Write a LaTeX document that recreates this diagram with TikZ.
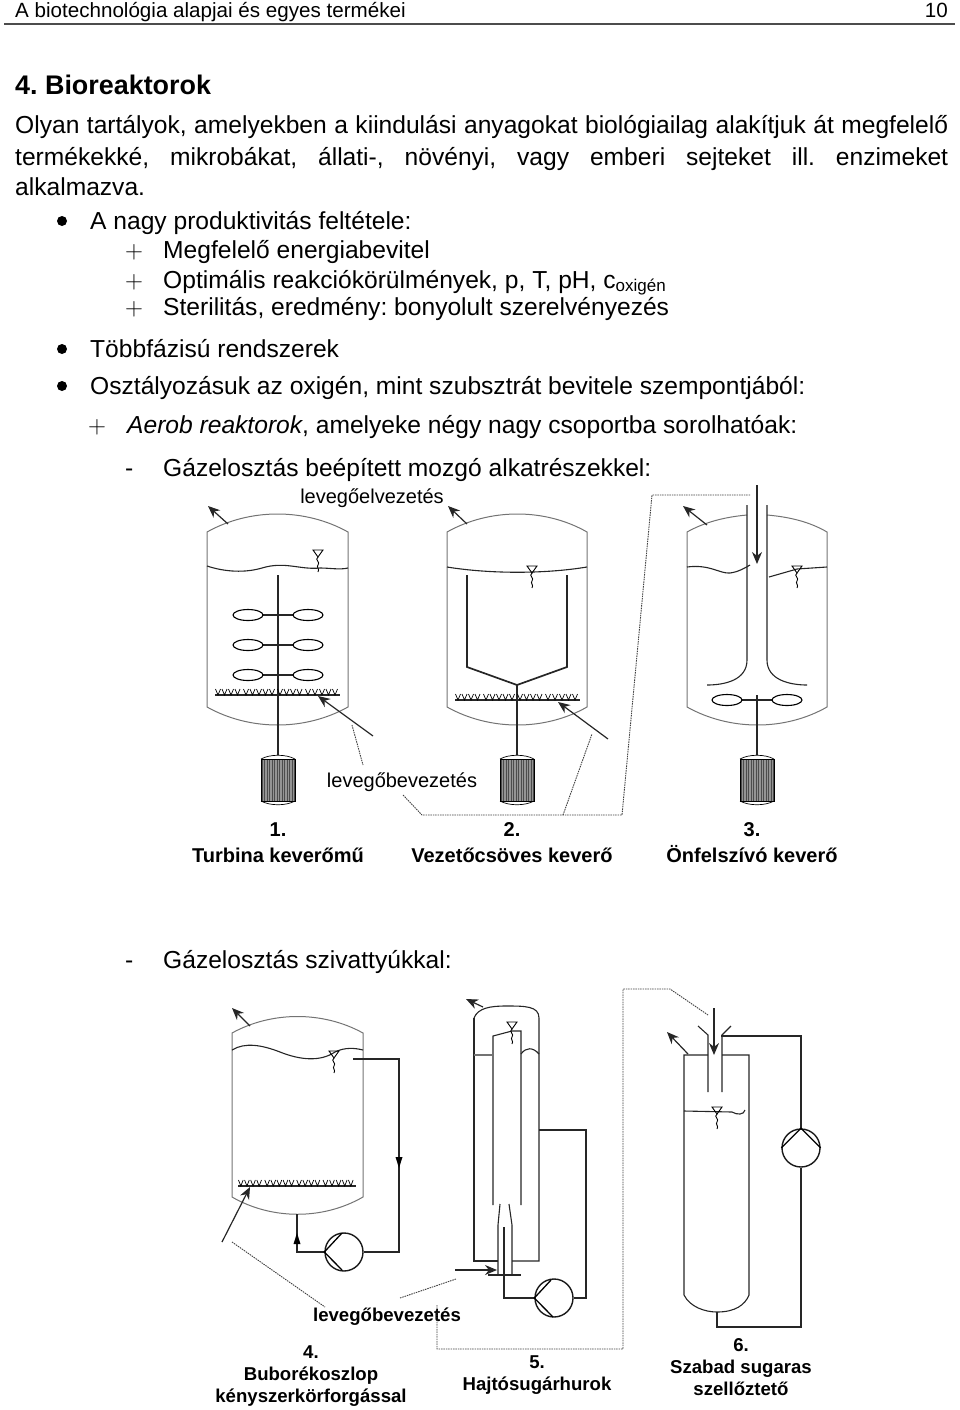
\documentclass[tikz,border=0pt]{standalone}
\usepackage{fontspec}
\setmainfont{Liberation Sans}
\usetikzlibrary{arrows.meta, calc}

\newcommand{\bodyfont}{\fontsize{24.6}{30}\selectfont}
\newcommand{\labelfont}{\fontsize{20}{26}\selectfont}
\newcommand{\smallcapfont}{\fontsize{18.6}{22}\selectfont}
\frenchspacing

\tikzset{
  line/.style={anchor=base west, inner sep=0pt, font=\bodyfont},
  caption/.style={inner sep=0pt, align=center, font=\labelfont\bfseries},
  lowcaption/.style={inner sep=0pt, align=center, font=\smallcapfont\bfseries},
  wall/.style={draw=black!55, line width=1pt},
  inner/.style={draw=black!85, line width=1.1pt},
  tube/.style={draw=black!85, line width=1.7pt},
  flow/.style={draw=black!85, line width=1.2pt, -{Stealth[length=12pt,width=10pt]}},
  lead/.style={draw=black!75, line width=.9pt, dash pattern=on 1.5pt off .9pt},
  pump/.style={draw=black!90, line width=1.4pt, circle, minimum size=38pt, inner sep=0pt},
  levelmark/.pic={
    \draw[line width=.9pt] (-5,0) -- (5,0) -- (0,7) -- cycle;
    \draw[line width=.9pt] (0,7) .. controls (-4,10) and (3,12) .. (0,15) .. controls (-2,17) and (2,19) .. (0,22);
  },
  motor/.pic={
    \draw[line width=.7pt] (-17,0) .. controls (-8,-5) and (8,-5) .. (17,0);
    \draw[line width=.7pt] (-17,42) .. controls (-8,47) and (8,47) .. (17,42);
    \fill[black!42] (-17,0) rectangle (17,42);
    \foreach \s in {-16,-13.5,...,16.5}
      \draw[black!70, line width=.45pt] (\s,0) -- (\s,42);
    \draw[black, line width=1pt] (-17,0) rectangle (17,42);
  },
  sparger/.pic={
    \draw[line width=1.4pt, black!85] (0,0) -- (125,0);
    \foreach \s in {3,9.5,16,22.5,31,37.5,44,50.5,57,65,71.5,78,84.5,93,100,107,113.5,120}
      \draw[line width=.7pt] (\s-2.5,-6) -- (\s,0) -- (\s+2.5,-6);
  },
  paddle/.pic={
    \draw[line width=1.1pt, black!85] (-15,0) -- (15,0);
    \draw[line width=1.1pt, fill=white] (-30,0) ellipse [x radius=15, y radius=5.5];
    \draw[line width=1.1pt, fill=white] (30,0) ellipse [x radius=15, y radius=5.5];
  }
}

\begin{document}
\begin{tikzpicture}[x=1pt, y=-1pt]
  \useasboundingbox (0,0) rectangle (960,1410);

  % page text
  \node[line, font=\fontsize{20.6}{26}\selectfont] (head) at (15,18) {A biotechnológia alapjai és egyes termékei};
  \node[anchor=base east, inner sep=0pt, font=\fontsize{20.6}{26}\selectfont] (pageno) at (948,18) {10};
  \draw[black!70, line width=1.2pt] (4,24) -- (955,24);
  \node[line, font=\fontsize{26.9}{32}\selectfont\bfseries] (title) at (15,95) {4. Bioreaktorok};
  \node[line] (p1) at (15,134) {\makebox[933pt][s]{Olyan tartályok, amelyekben a kiindulási anyagokat biológiailag alakítjuk át megfelelő}};
  \node[line] (p2) at (15,165) {\makebox[933pt][s]{termékekké, mikrobákat, állati-, növényi, vagy emberi sejteket ill. enzimeket}};
  \node[line] (p3) at (15,195) {alkalmazva.};

  \fill (62,221) circle (5);
  \fill (62,349) circle (5);
  \fill (62,386) circle (5);
  \node[line] (a0) at (90,229) {A nagy produktivitás feltétele:};
  \node[line, font=\fontsize{24}{30}\selectfont\rmfamily] (a1p) at (125,258) {$+$};
  \node[line] (a1) at (163,258) {Megfelelő energiabevitel};
  \node[line, font=\fontsize{24}{30}\selectfont\rmfamily] (a2p) at (125,288) {$+$};
  \node[line] (a2) at (163,288) {Optimális reakciókörülmények, p, T, pH, c\raisebox{-3pt}{\fontsize{17}{17}\selectfont oxigén}};
  \node[line, font=\fontsize{24}{30}\selectfont\rmfamily] (a3p) at (125,315) {$+$};
  \node[line] (a3) at (163,315) {Sterilitás, eredmény: bonyolult szerelvényezés};
  \node[line] (b0) at (90,357) {Többfázisú rendszerek};
  \node[line] (c0) at (90,394) {Osztályozásuk az oxigén, mint szubsztrát bevitele szempontjából:};
  \node[line, font=\fontsize{24}{30}\selectfont\rmfamily] (c1p) at (88,433) {$+$};
  \node[line] (c1) at (127,433) {\textit{Aerob reaktorok}, amelyeke négy nagy csoportba sorolhatóak:};
  \node[line] (d1m) at (125,476) {-};
  \node[line] (d1) at (163,476) {Gázelosztás beépített mozgó alkatrészekkel:};
  \node[line] (d2m) at (125,968) {-};
  \node[line] (d2) at (163,968) {Gázelosztás szivattyúkkal:};

  % 1. turbina
  \draw[wall] (207,532) .. controls (250,508) and (305,508) .. (348,532) -- (348,707) .. controls (305,731) and (250,731) .. (207,707) -- cycle;
  \draw[inner] (207,566) .. controls (225,572) and (245,573) .. (262,568) .. controls (285,561) and (300,570) .. (320,568) .. controls (330,568) and (340,570) .. (348,568);
  \pic at (318,550) {levelmark};
  \draw[inner] (278,575) -- (278,755);
  \pic at (278,615) {paddle};
  \pic at (278,645) {paddle};
  \pic at (278,675) {paddle};
  \pic at (215,695) {sparger};
  \pic at (278,759) {motor};
  \draw[flow] (228,524) -- (208,506);
  \draw[flow] (373,736) -- (318,696);

  % 2. vezetocsoves
  \draw[wall] (447,532) .. controls (490,508) and (545,508) .. (587,532) -- (587,707) .. controls (545,731) and (490,731) .. (447,707) -- cycle;
  \draw[inner] (447,567) .. controls (490,574) and (545,574) .. (587,567);
  \pic at (532,566) {levelmark};
  \draw[tube] (467,575) -- (467,667) -- (517,685) -- (567,667) -- (567,575);
  \draw[inner] (517,685) -- (517,755);
  \pic at (455,700) {sparger};
  \pic at (517,759) {motor};
  \draw[flow] (467,524) -- (448,506);
  \draw[flow] (608,739) -- (558,702);

  % 3. onfelszivo
  \draw[wall] (747,515) .. controls (725,517) and (705,522) .. (687,532) -- (687,707) .. controls (730,731) and (785,731) .. (827,707) -- (827,532) .. controls (810,522) and (790,517) .. (767,515);
  \draw[inner] (687,567) .. controls (710,564) and (720,574) .. (730,573) .. controls (738,572) and (745,568) .. (750,565);
  \draw[inner] (769,577) -- (797,569) -- (827,567);
  \pic at (797,566) {levelmark};
  \draw[inner] (747,505) -- (747,660) .. controls (747,680) and (725,685) .. (707,685);
  \draw[inner] (767,505) -- (767,660) .. controls (767,680) and (790,685) .. (807,685);
  \draw[inner] (757,695) -- (757,755);
  \pic at (757,700) {paddle};
  \pic at (757,759) {motor};
  \draw[flow] (707,525) -- (683,506);
  \draw[flow] (757,485) -- (757,564);

  % levegobevezetes, felso sor
  \node[inner sep=0pt, font=\labelfont] (outtop) at (372,498) {levegőelvezetés};
  \node[inner sep=0pt, font=\labelfont] (intop) at (402,782) {levegőbevezetés};
  \draw[lead] (352,725) -- (363,765);
  \draw[lead] (403,795) -- (422,815) -- (622,815) -- (652,495) -- (750,495);
  \draw[lead] (563,815) -- (592,734);

  \node[caption] (cap1) at (278,843) {1.\\Turbina keverőmű};
  \node[caption] (cap2) at (512,843) {2.\\Vezetőcsöves keverő};
  \node[caption] (cap3) at (752,843) {3.\\Önfelszívó keverő};

  % 4. buborekoszlop
  \draw[wall] (232,1033) .. controls (272,1011) and (323,1011) .. (363,1033) -- (363,1197) .. controls (323,1220) and (272,1220) .. (232,1197) -- cycle;
  \draw[inner] (232,1050) .. controls (245,1042) and (262,1045) .. (280,1052) .. controls (300,1060) and (320,1062) .. (335,1052) .. controls (345,1047) and (355,1048) .. (363,1050);
  \pic at (334,1051) {levelmark};
  \pic[xscale=.94] at (238,1186) {sparger};
  \node[pump] (pump4) at (344,1252) {};
  \draw[tube] (353,1059) -- (399,1059) -- (399,1252) -- (pump4.east);
  \draw[tube] (pump4.west) -- (297,1252) -- (297,1214);
  \draw[line width=1.3pt] (342,1233) -- (pump4.west) -- (342,1270);
  \fill (399,1163) ++(-3.5,-6) -- ++(7,0) -- ++(-3.5,11) -- cycle;
  \fill (297,1238) ++(-3.5,6) -- ++(7,0) -- ++(-3.5,-11) -- cycle;
  \draw[flow] (250,1026) -- (232,1008);
  \draw[flow] (222,1242) -- (250,1187);

  % 5. hajtosugar
  \draw[inner] (474,1018) .. controls (478,1008) and (490,1006) .. (506,1006) .. controls (525,1006) and (539,1006) .. (539,1018) -- (539,1261) -- (512,1261);
  \draw[inner] (498,1261) -- (474,1261) -- (474,1018);
  \draw[inner] (493,1205) -- (493,1036) -- (512,1031) -- (521,1031) -- (521,1205);
  \draw[black!55, line width=1.3pt] (474,1055) -- (493,1055);
  \draw[inner] (521,1054) .. controls (526,1047) and (533,1047) .. (539,1054);
  \pic at (512,1022) {levelmark};
  \draw[inner] (500,1204) -- (498,1225) -- (498,1275);
  \draw[inner] (509,1204) -- (512,1225) -- (512,1275);
  \draw[inner] (488,1275) -- (521,1275);
  \node[pump] (pump5) at (554,1298) {};
  \draw[tube] (504,1227) -- (504,1298) -- (pump5.west);
  \draw[tube] (pump5.east) -- (586,1298) -- (586,1130) -- (539,1130);
  \draw[line width=1.3pt] (551,1280) -- (pump5.west) -- (553,1317);
  \draw[flow] (483,1007) -- (466,999);
  \draw[flow] (455,1270) -- (497,1270);

  % 6. szabad sugaras
  \draw[inner] (708,1055) -- (684,1055) -- (684,1295) .. controls (690,1307) and (705,1312) .. (717,1312) .. controls (735,1312) and (745,1305) .. (749,1295) -- (749,1055) -- (722,1055);
  \draw[inner] (698,1026) -- (708,1035) -- (708,1092);
  \draw[inner] (731,1026) -- (722,1035) -- (722,1092);
  \draw[inner] (684,1111) -- (732,1112) .. controls (737,1115) and (744,1115) .. (745,1110);
  \pic at (717,1107) {levelmark};
  \node[pump] (pump6) at (801,1148) {};
  \draw[tube] (721,1036) -- (801,1036) -- (pump6.north);
  \draw[tube] (pump6.south) -- (801,1327) -- (717,1327) -- (717,1312);
  \draw[line width=1.3pt] (pump6.west) -- (pump6.north) -- (pump6.east);
  \draw[flow] (688,1054) -- (667,1032);
  \draw[flow] (714,1008) -- (714,1055);

  % levegobevezetes, also sor
  \node[lowcaption] (inbot) at (387,1317) {levegőbevezetés};
  \draw[lead] (232,1242) -- (325,1307);
  \draw[lead] (400,1298) -- (456,1279);
  \draw[lead] (437,1305) -- (437,1349) -- (623,1349) -- (623,989) -- (670,989) -- (708,1015);

  \node[lowcaption] (cap4) at (311,1376) {4.\\Buborékoszlop\\kényszerkörforgással};
  \node[lowcaption] (cap5) at (537,1375) {5.\\Hajtósugárhurok};
  \node[lowcaption] (cap6) at (741,1367) {6.\\Szabad sugaras\\szellőztető};
\end{tikzpicture}
\end{document}
